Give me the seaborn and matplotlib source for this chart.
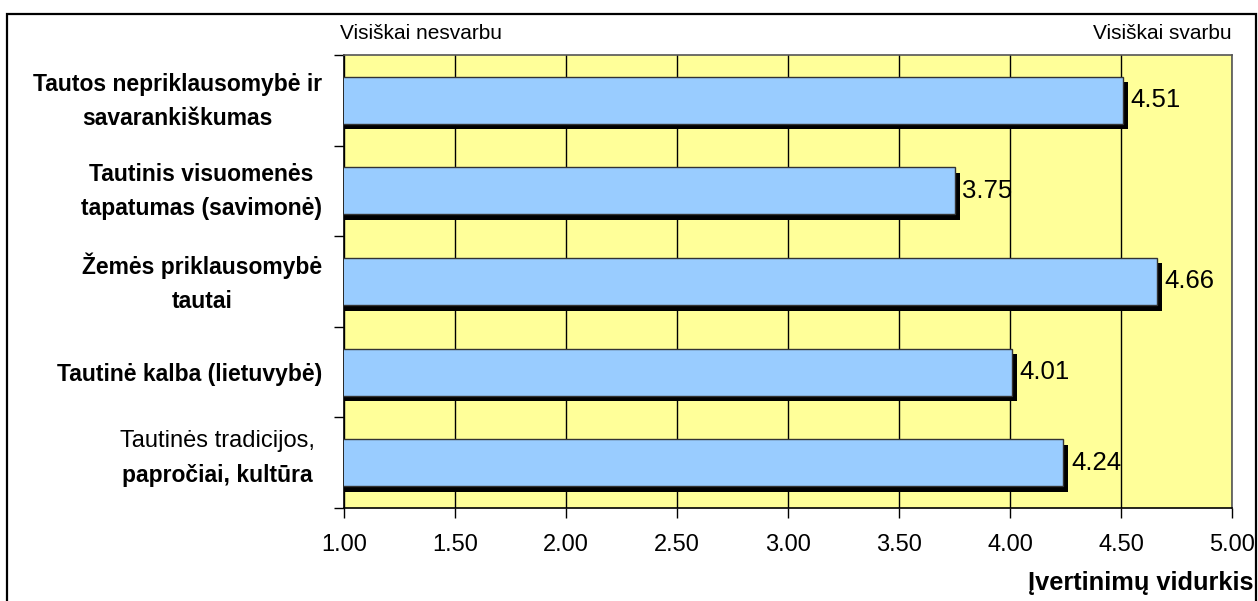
import matplotlib
matplotlib.use("Agg")
import matplotlib.pyplot as plt
import matplotlib.patches as mpatches
import matplotlib.transforms as mtransforms
import seaborn as sns
import pandas as pd

# data
categories = [
    "Tautos nepriklausomybė ir\nsavarankiškumas",
    "Tautinis visuomenės\ntapatumas (savimonė)",
    "Žemės priklausomybė\ntautai",
    "Tautinė kalba (lietuvybė)",
    "Tautinės tradicijos,\npapročiai, kultūra",
]
averages = [4.51, 3.75, 4.66, 4.01, 4.24]
x_ticks = [1.0, 1.5, 2.0, 2.5, 3.0, 3.5, 4.0, 4.5, 5.0]

df = pd.DataFrame({"category": categories, "average": averages})

sns.set_theme(style="white")
plt.rcParams["font.family"] = ["Liberation Sans", "DejaVu Sans"]
plt.rcParams.update({"text.color": "black", "xtick.color": "black",
                     "ytick.color": "black", "axes.labelcolor": "black"})

fig = plt.figure(figsize=(12.58, 6.01), dpi=100)
ax = fig.add_axes([344 / 1258, 93 / 601, 888 / 1258, 453 / 601])
ax.set_facecolor("#FFFF99")

sns.barplot(
    data=df, x="average", y="category", orient="h", ax=ax,
    color="#99CCFF", saturation=1, width=0.52,
    edgecolor="#333333", linewidth=1, zorder=3,
)

# black drop shadow behind each bar (offset a few pixels right/down)
shift = mtransforms.ScaledTranslation(5 / 100, -5.5 / 100, fig.dpi_scale_trans)
for bar in list(ax.containers[0]):
    sh = mpatches.Rectangle(bar.get_xy(), bar.get_width(), bar.get_height(),
                            facecolor="black", edgecolor="none", zorder=2.5,
                            transform=ax.transData + shift)
    ax.add_artist(sh)
    sh.set_clip_path(ax.patch)

ax.bar_label(ax.containers[0], fmt="%.2f", padding=5.5, fontsize=18.5, zorder=5)

ax.set_xlim(1, 5)
ax.set_ylim(4.5, -0.5)
ax.set_xticks(x_ticks)
ax.set_xticklabels([f"{t:.2f}" for t in x_ticks], fontsize=17)
ax.grid(axis="x", color="black", linewidth=1)
ax.grid(axis="y", visible=False)
ax.set_axisbelow(True)
ax.set_xlabel("")
ax.set_ylabel("")

# y tick marks sit between categories, labels have no marks
ax.set_yticks([i - 0.5 for i in range(len(categories) + 1)], minor=True)
ax.tick_params(axis="y", which="minor", length=7, width=1, color="black", left=True)
ax.tick_params(axis="y", which="major", length=0, pad=16)
ax.tick_params(axis="x", which="major", length=7, width=1, color="black",
               bottom=True, pad=12)
ax.set_yticks(range(len(categories)))
ax.set_yticklabels(categories[:-1] + [""], fontsize=16.5, fontweight="bold")
lift = mtransforms.ScaledTranslation(0, 7 / 100, fig.dpi_scale_trans)
for t in ax.get_yticklabels():
    t.set_multialignment("center")
    t.set_linespacing(1.6)
    if "\n" in t.get_text():
        t.set_transform(t.get_transform() + lift)

# last label mixes regular and bold lines
line1, line2 = categories[-1].split("\n")
tr = ax.get_yaxis_transform()
ax.text(-0.143, 3.76, line1, transform=tr, ha="center", va="center",
        fontsize=17, clip_on=False)
ax.text(-0.143, 4.14, line2, transform=tr, ha="center", va="center",
        fontsize=16.5, fontweight="bold", clip_on=False)

for side in ["left", "bottom"]:
    ax.spines[side].set_color("black")
    ax.spines[side].set_linewidth(1.2)
for side in ["top", "right"]:
    ax.spines[side].set_color("#555555")
    ax.spines[side].set_linewidth(1.2)

ax.text(-0.004, 1.048, "Visiškai nesvarbu", transform=ax.transAxes,
        ha="left", va="center", fontsize=15)
ax.text(1.0, 1.048, "Visiškai svarbu", transform=ax.transAxes,
        ha="right", va="center", fontsize=15)
fig.text(1253 / 1258, 1 - 583 / 601, "Įvertinimų vidurkis", ha="right",
         va="center", fontsize=18.3, fontweight="bold")

# outer chart border
fig.add_artist(mpatches.Rectangle(
    (7 / 1258, -0.1), 1249 / 1258, 1.1 - 14 / 601,
    transform=fig.transFigure, fill=False, edgecolor="black", linewidth=1.6))

fig.savefig("out.png", dpi=100)
